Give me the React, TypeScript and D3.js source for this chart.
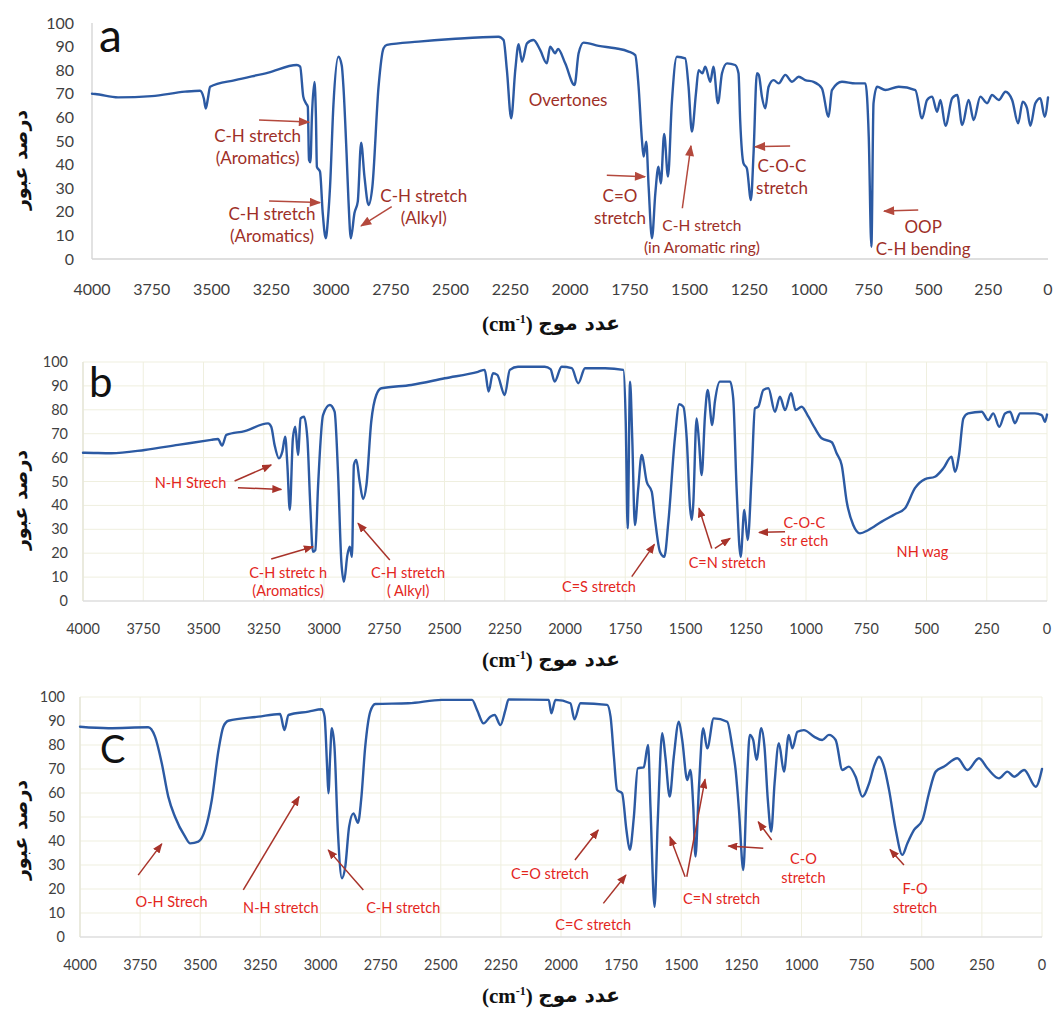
import React from 'react';
import * as d3 from 'd3';

// Wavenumber (cm-1) ticks and transmittance (%) ticks
const wavenumberTicks = [4000, 3750, 3500, 3250, 3000, 2750, 2500, 2250, 2000, 1750, 1500, 1250, 1000, 750, 500, 250, 0];
const transmittanceTicks = [0, 10, 20, 30, 40, 50, 60, 70, 80, 90, 100];

// Spectrum a: [wavenumber, %T]
const spectrumA: [number, number][] = [
  [4000, 70], [3987, 69.9], [3891, 68.5], [3750, 69], [3611, 70.9], [3548, 71.3], [3532, 68], [3524, 63.8], [3515, 68],
  [3506, 73], [3401, 75.8], [3262, 79], [3143, 82.2], [3129, 81.5], [3116, 68.8], [3105, 66], [3097, 64.5], [3092, 42],
  [3086, 41], [3080, 60], [3069, 75], [3063, 60], [3059, 39], [3046, 37], [3035, 20], [3022, 8.8], [3012, 18],
  [3004, 30.6], [2990, 65], [2969, 85.7], [2955, 82], [2948, 73], [2935, 45], [2927, 25], [2917, 8.8], [2902, 19.4],
  [2888, 24.3], [2874, 49.3], [2860, 34.9], [2843, 22.9], [2827, 30.6], [2801, 73], [2780, 89.3], [2766, 90.7],
  [2634, 92.1], [2494, 93.2], [2299, 94.2], [2278, 92.8], [2264, 80], [2246, 59.6], [2229, 80], [2215, 91],
  [2201, 83.6], [2180, 91.4], [2153, 92.8], [2125, 88.6], [2097, 82.9], [2083, 90], [2062, 87.2], [2050, 89],
  [2020, 82.9], [1981, 73.7], [1964, 87.2], [1943, 91.7], [1880, 90.3], [1810, 89.3], [1755, 87.9], [1727, 86.4],
  [1713, 73], [1699, 50.4], [1692, 43.4], [1681, 49.7], [1671, 30.6], [1657, 8.8], [1643, 27.8], [1630, 39.1],
  [1620, 32], [1606, 53], [1590, 34.9], [1574, 66], [1553, 85.7], [1518, 85], [1504, 73], [1490, 54], [1473, 70.2],
  [1462, 80], [1446, 78.7], [1434, 81.5], [1413, 75.1], [1400, 81.5], [1381, 66], [1364, 78.7], [1343, 82.9],
  [1309, 82.2], [1295, 78.7], [1288, 58.9], [1274, 40.5], [1260, 38.4], [1243, 25], [1232, 44.8], [1218, 78.7],
  [1210, 78], [1197, 68.8], [1183, 63.9], [1169, 73], [1148, 75.8], [1127, 74.4], [1099, 78], [1071, 75.1],
  [1043, 77.2], [1016, 75.8], [981, 75.1], [946, 72.3], [918, 60.3], [904, 71.6], [862, 75.1], [806, 74.4],
  [764, 74.4], [750, 51.8], [739, 5.2], [730, 66], [715, 73], [681, 71.6], [625, 73], [555, 71.6], [527, 59.6],
  [506, 67.4], [485, 68.8], [464, 62.4], [450, 67.4], [429, 56.4], [401, 68.1], [380, 69.5], [359, 56.8],
  [332, 67.4], [311, 58.9], [283, 68.8], [255, 66], [234, 69.5], [206, 67.4], [178, 70.9], [150, 67.4],
  [125, 57.5], [106, 66.6], [88, 63.9], [74, 56.4], [53, 66], [32, 68.1], [14, 60.3], [0, 68.5],
];

// Spectrum b
const spectrumB: [number, number][] = [
  [4000, 62], [3993, 62], [3883, 61.8], [3744, 63.2], [3606, 65.3], [3468, 67.4], [3440, 67.8], [3423, 65],
  [3405, 69.5], [3329, 71.1], [3232, 74.3], [3219, 72.9], [3205, 65.3], [3187, 59.7], [3173, 62.5], [3161, 68.7],
  [3152, 56.9], [3142, 38.1], [3129, 68.1], [3119, 72.9], [3108, 61.1], [3097, 76.4], [3083, 77.1], [3069, 68.1],
  [3057, 40.2], [3046, 20.6], [3036, 21.3], [3025, 47.2], [3004, 77.8], [2976, 82], [2956, 79.2], [2942, 54.1],
  [2928, 16.4], [2917, 8.1], [2903, 19.2], [2893, 22.7], [2884, 18.5], [2876, 56.9], [2866, 59], [2852, 49.9],
  [2838, 42.7], [2824, 48.5], [2804, 75], [2783, 86.2], [2762, 89], [2638, 90.4], [2499, 93.2], [2361, 95.9],
  [2333, 96.7], [2317, 87.6], [2299, 95.3], [2281, 94.6], [2250, 86.2], [2229, 96.7], [2195, 98], [2084, 98],
  [2060, 97], [2043, 91.8], [2014, 98], [1972, 97.4], [1945, 91.1], [1917, 97.4], [1834, 97.4], [1758, 96.7],
  [1748, 75], [1740, 30.4], [1730, 91.8], [1721, 68.1], [1710, 31.8], [1696, 47.2], [1682, 61.1], [1661, 49.9],
  [1640, 45.7], [1627, 34.6], [1606, 20.6], [1588, 18.5], [1571, 33.2], [1544, 68.1], [1526, 82.3], [1509, 81.3],
  [1495, 68.1], [1481, 38.8], [1474, 33.9], [1468, 40.2], [1454, 76.4], [1444, 66.7], [1433, 52.7], [1419, 77.8],
  [1408, 88.3], [1389, 73.6], [1378, 83.4], [1357, 91.8], [1315, 91.8], [1302, 84.8], [1288, 47.2], [1271, 18.5],
  [1256, 38.1], [1242, 25.5], [1225, 54.1], [1212, 80.6], [1198, 81.3], [1177, 88.3], [1156, 89], [1129, 79.2],
  [1108, 85.5], [1087, 79.9], [1062, 86.9], [1043, 79.9], [1018, 81.3], [990, 77.1], [963, 72.3], [935, 68.1],
  [893, 66.4], [873, 61.8], [852, 56.9], [831, 41.5], [804, 31.8], [776, 28.3], [741, 29.7], [686, 33.2],
  [631, 36.3], [589, 38.8], [548, 47.2], [506, 51], [465, 52], [430, 55.5], [396, 60.4], [382, 54.1], [365, 61.1],
  [347, 76.4], [327, 78.5], [271, 79.2], [244, 75.7], [223, 78.5], [198, 72.9], [174, 78.5], [153, 79.2],
  [133, 74.4], [112, 78.5], [50, 78.5], [22, 77.8], [8, 75], [0, 78],
];

// Spectrum c
const spectrumC: [number, number][] = [
  [4000, 87.6], [3882, 87], [3716, 87.4], [3688, 83.5], [3660, 72.4], [3633, 58.5], [3605, 50.1], [3563, 41.8],
  [3542, 39], [3508, 39.7], [3480, 44.6], [3452, 57.1], [3424, 77.9], [3404, 87.6], [3383, 90.1], [3258, 91.8],
  [3168, 92.9], [3150, 86.2], [3133, 92.5], [3050, 93.9], [2994, 94.9], [2983, 91.8], [2972, 69.6], [2967, 59.9],
  [2960, 75.1], [2953, 87], [2942, 79.3], [2928, 44.6], [2911, 24.5], [2897, 29.3], [2881, 46], [2863, 51.5],
  [2844, 47.6], [2831, 57.1], [2814, 79.3], [2793, 93.9], [2772, 97.1], [2634, 97.4], [2495, 98.8], [2370, 98.8],
  [2349, 94.6], [2322, 89], [2294, 91.8], [2276, 92.5], [2252, 88.3], [2231, 94.6], [2218, 99], [2051, 98.8],
  [2040, 93.2], [2023, 98.8], [1961, 97.4], [1944, 90.7], [1919, 97.4], [1808, 96.7], [1794, 91.8], [1780, 75.1],
  [1767, 61.3], [1746, 59.9], [1728, 44.6], [1714, 36.3], [1697, 50.1], [1681, 70.3], [1656, 70.7], [1638, 80],
  [1628, 54.3], [1611, 12.6], [1598, 47.4], [1579, 84.9], [1566, 75.1], [1548, 58.5], [1531, 75.1], [1510, 89.7],
  [1496, 82.1], [1475, 65.4], [1462, 69.6], [1450, 54.3], [1441, 33.5], [1427, 61.3], [1409, 87], [1392, 78.6],
  [1365, 91.1], [1309, 89.7], [1288, 79.3], [1274, 69.6], [1260, 52.9], [1242, 27.9], [1228, 61.3], [1215, 84.2],
  [1201, 82.1], [1187, 73.8], [1167, 87], [1154, 79.3], [1140, 57.1], [1126, 43.9], [1112, 64], [1094, 80.7],
  [1073, 68.9], [1053, 84.2], [1038, 78.6], [1017, 85.5], [990, 86.2], [948, 83.5], [914, 82.1], [886, 84.2],
  [858, 82.1], [830, 69.6], [803, 71], [775, 66.8], [747, 58.5], [719, 64], [699, 71], [678, 75.1], [657, 71],
  [636, 61.3], [608, 44.6], [581, 34.2], [560, 39], [532, 44.6], [497, 48.8], [470, 59.9], [442, 68.9], [407, 71],
  [352, 74.5], [310, 69.6], [262, 74.5], [227, 70.3], [179, 66.1], [144, 68.9], [116, 66.8], [74, 69.6],
  [26, 62.6], [0, 70],
];

// Band labels: anchor [wavenumber, %T] of the first line, then the lines
type Label = { at: [number, number]; lines: string[]; size?: number };
type Arrow = [number, number, number, number]; // from wn, %T -> to wn, %T

const labelsA: Label[] = [
  { at: [3307, 49.7], lines: ['C-H stretch', '(Aromatics)'] },
  { at: [3247, 16.5], lines: ['C-H stretch', '(Aromatics)'] },
  { at: [2612, 24.3], lines: ['C-H stretch', '(Alkyl)'] },
  { at: [2008, 64.8], lines: ['Overtones'] },
  { at: [1791, 24.3], lines: ['C=O', 'stretch'] },
  { at: [1448, 12], lines: ['C-H stretch', '(in Aromatic ring)'], size: 15.5 },
  { at: [1113, 37], lines: ['C-O-C', 'stretch'] },
  { at: [522, 11], lines: ['OOP', 'C-H bending'] },
];
const arrowsA: Arrow[] = [
  [3301, 58.9, 3092, 58], [3259, 24.6, 3046, 23.9], [2746, 22.2, 2874, 14], [1846, 35.5, 1686, 34.9],
  [1530, 21.5, 1494, 47.9], [1079, 47.9, 1226, 47.6], [543, 20.8, 686, 20.3],
];

const labelsB: Label[] = [
  { at: [3554, 47.4], lines: ['N-H Strech'] },
  { at: [3149, 9.7], lines: ['C-H stretc h', '(Aromatics)'] },
  { at: [2651, 9.7], lines: ['C-H stretch', '( Alkyl)'] },
  { at: [1859, 3.6], lines: ['C=S stretch'] },
  { at: [1327, 13.7], lines: ['C=N stretch'] },
  { at: [1007, 30.4], lines: ['C-O-C', 'str etch'] },
  { at: [517, 18.5], lines: ['NH wag'] },
];
const arrowsB: Arrow[] = [
  [3371, 50.2, 3219, 56.9], [3357, 47.4, 3177, 46.7], [3219, 17.6, 3046, 22.7], [2727, 17.2, 2859, 32.5],
  [1723, 10.2, 1629, 23.7], [1391, 22, 1444, 38.8], [1378, 22, 1315, 26.2], [1087, 29, 1195, 28.7],
];

const labelsC: Label[] = [
  { at: [3619, 12.6], lines: ['O-H Strech'] },
  { at: [3165, 9.9], lines: ['N-H stretch'] },
  { at: [2656, 9.9], lines: ['C-H stretch'] },
  { at: [2046, 24], lines: ['C=O stretch'] },
  { at: [1866, 2.9], lines: ['C=C stretch'] },
  { at: [1332, 13.8], lines: ['C=N stretch'] },
  { at: [992, 30.4], lines: ['C-O', 'stretch'] },
  { at: [528, 17.9], lines: ['F-O', 'stretch'] },
];
const arrowsC: Arrow[] = [
  [3758, 25.8, 3660, 38.8], [3321, 19.6, 3089, 58.5], [2822, 19.6, 2968, 36.3], [1942, 32.1, 1845, 44.6],
  [1824, 14, 1730, 25.8], [1484, 25.1, 1547, 41.8], [1477, 25.1, 1401, 65.7], [1159, 37, 1304, 37.9],
  [1124, 40.4, 1180, 48], [574, 30, 632, 36.5],
];

const yTitle = 'درصد عبور';
const xTitleWord = 'عدد موج';

type PanelCfg = {
  key: string;
  letter: string;
  data: [number, number][];
  labels: Label[];
  arrows: Arrow[];
  left: number; right: number; top: number; bottom: number;
  tickSize: number; yTickRight: number; xTickBaseline: number;
  yTitleY: number; xTitleBaseline: number;
  letterX: number; letterY: number; letterSize: number;
  grid: boolean;
  labelColor: string; arrowColor: string; labelSize: number; lineGap: number;
};

const panels: PanelCfg[] = [
  {
    key: 'a', letter: 'a', data: spectrumA, labels: labelsA, arrows: arrowsA,
    left: 92, right: 1048, top: 23, bottom: 259,
    tickSize: 16, yTickRight: 74, xTickBaseline: 295,
    yTitleY: 160, xTitleBaseline: 331,
    letterX: 99, letterY: 52, letterSize: 46, grid: false,
    labelColor: '#9e2f27', arrowColor: '#b4493d', labelSize: 17, lineGap: 22,
  },
  {
    key: 'b', letter: 'b', data: spectrumB, labels: labelsB, arrows: arrowsB,
    left: 83, right: 1047, top: 362, bottom: 601,
    tickSize: 14.5, yTickRight: 68, xTickBaseline: 634,
    yTitleY: 500, xTitleBaseline: 667,
    letterX: 89, letterY: 397, letterSize: 42, grid: true,
    labelColor: '#e3261d', arrowColor: '#a8332a', labelSize: 14.5, lineGap: 18,
  },
  {
    key: 'c', letter: 'C', data: spectrumC, labels: labelsC, arrows: arrowsC,
    left: 80, right: 1042, top: 697, bottom: 937,
    tickSize: 14.5, yTickRight: 65, xTickBaseline: 970,
    yTitleY: 830, xTitleBaseline: 1003,
    letterX: 100, letterY: 763, letterSize: 38, grid: true,
    labelColor: '#e3261d', arrowColor: '#a8332a', labelSize: 14.5, lineGap: 19,
  },
];

const LINE_COLOR = '#2c5aa3';
const TICK_FONT = 'Lato, "Open Sans", sans-serif';

function Panel({ p }: { p: PanelCfg }) {
  const x = d3.scaleLinear().domain([4000, 0]).range([p.left, p.right]);
  const y = d3.scaleLinear().domain([0, 100]).range([p.bottom, p.top]);
  const line = d3
    .line<[number, number]>()
    .x((d) => x(d[0]))
    .y((d) => y(d[1]))
    .curve(d3.curveMonotoneX);
  const markerId = `head-${p.key}`;

  return (
    <g>
      <defs>
        <marker id={markerId} viewBox="0 0 10 8" refX="9" refY="4" markerWidth={p.key === 'a' ? 12 : 10}
          markerHeight={p.key === 'a' ? 9 : 8} markerUnits="userSpaceOnUse" orient="auto">
          <path d="M0,0 L10,4 L0,8 z" fill={p.arrowColor} />
        </marker>
      </defs>

      {p.grid && (
        <g stroke="#efefdf" strokeWidth={1}>
          {transmittanceTicks.filter((t) => t > 0).map((t) => (
            <line key={`h${t}`} x1={p.left} x2={p.right} y1={y(t)} y2={y(t)} />
          ))}
          {wavenumberTicks.map((w) => (
            <line key={`v${w}`} x1={x(w)} x2={x(w)} y1={p.top} y2={p.bottom} />
          ))}
        </g>
      )}

      {/* axes */}
      <line x1={p.left} x2={p.left} y1={p.top} y2={p.bottom} stroke={p.grid ? '#e6e6d8' : '#d9d9d9'} strokeWidth={1.5} />
      <line x1={p.left} x2={p.right} y1={p.bottom} y2={p.bottom} stroke={p.grid ? '#dedede' : '#d4d4d4'} strokeWidth={1.5} />

      {/* tick labels */}
      <g fontFamily={TICK_FONT} fontSize={p.tickSize} fill="#3f3f3f">
        {transmittanceTicks.map((t) => (
          <text key={`yt${t}`} x={p.yTickRight} y={y(t)} dy="0.35em" textAnchor="end">{t}</text>
        ))}
        {wavenumberTicks.map((w) => (
          <text key={`xt${w}`} x={x(w)} y={p.xTickBaseline} textAnchor="middle">{w}</text>
        ))}
      </g>

      {/* spectrum */}
      <path d={line(p.data) || ''} fill="none" stroke={LINE_COLOR} strokeWidth={2.4} strokeLinejoin="round" strokeLinecap="round" />

      {/* band assignments */}
      <g stroke={p.arrowColor} strokeWidth={1.5}>
        {p.arrows.map((a, i) => (
          <line key={`ar${i}`} x1={x(a[0])} y1={y(a[1])} x2={x(a[2])} y2={y(a[3])} markerEnd={`url(#${markerId})`} />
        ))}
      </g>
      <g fontFamily={TICK_FONT} fill={p.labelColor} textAnchor="middle">
        {p.labels.map((l, i) => (
          <text key={`lb${i}`} x={x(l.at[0])} y={y(l.at[1])} fontSize={l.size ?? p.labelSize}>
            {l.lines.map((s, j) => (
              <tspan key={j} x={x(l.at[0])} dy={j === 0 ? 0 : p.lineGap}>{s}</tspan>
            ))}
          </text>
        ))}
      </g>

      {/* panel letter */}
      <text x={p.letterX} y={p.letterY} fontFamily={TICK_FONT} fontSize={p.letterSize} fill="#111">{p.letter}</text>

      {/* axis titles */}
      <text transform={`translate(27,${p.yTitleY}) rotate(-90)`} textAnchor="middle"
        fontFamily='"DejaVu Sans", sans-serif' fontWeight="bold" fontSize={19} fill="#111">{yTitle}</text>
      <text x={482} y={p.xTitleBaseline} fontFamily='"Liberation Serif", serif' fontWeight="bold" fontSize={21} fill="#111">
        (cm<tspan dy={-8} fontSize={12}>-1</tspan><tspan dy={8}>)</tspan>
      </text>
      <text x={620} y={p.xTitleBaseline - 1} textAnchor="end" fontFamily='"DejaVu Sans", sans-serif' fontWeight="bold"
        fontSize={20} fill="#111">{xTitleWord}</text>
    </g>
  );
}

export default function App() {
  return (
    <svg width={1060} height={1010} viewBox="0 0 1060 1010"
      style={{ position: 'absolute', left: 0, top: 0, background: '#fff' }}>
      <rect width={1060} height={1010} fill="#fff" />
      {panels.map((p) => (
        <Panel key={p.key} p={p} />
      ))}
    </svg>
  );
}
